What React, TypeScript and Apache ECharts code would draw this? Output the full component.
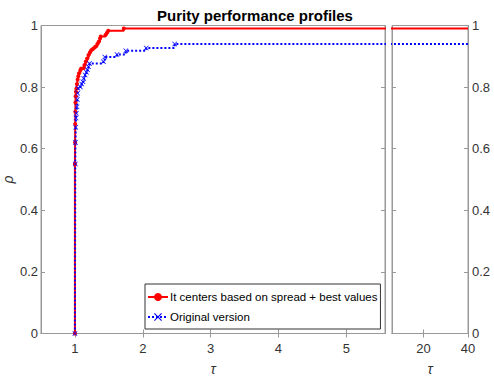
import React, { useEffect, useRef } from "react";
import * as echarts from "echarts";

const TITLE = "Purity performance profiles";
const SERIES_NAMES = ["It centers based on spread + best values", "Original version"];
const TAU_MAX = 40;

// (tau, rho) stair points
const redPoints: [number, number][] = [
  [1.0, 0.0], [1.0, 0.55], [1.002, 0.62], [1.004, 0.68], [1.006, 0.72], [1.008, 0.75],
  [1.01, 0.77], [1.015, 0.785], [1.02, 0.795], [1.03, 0.81], [1.04, 0.825], [1.05, 0.835],
  [1.06, 0.845], [1.08, 0.855], [1.09, 0.86], [1.13, 0.862], [1.14, 0.872], [1.16, 0.883],
  [1.18, 0.893], [1.2, 0.904], [1.22, 0.912], [1.24, 0.92], [1.27, 0.925], [1.3, 0.931],
  [1.33, 0.94], [1.35, 0.947], [1.37, 0.958], [1.38, 0.964], [1.45, 0.969], [1.47, 0.976],
  [1.49, 0.983], [1.72, 0.99], [TAU_MAX, 0.99],
];

const bluePoints: [number, number][] = [
  [1.0, 0.0], [1.005, 0.55], [1.008, 0.62], [1.012, 0.67], [1.016, 0.7], [1.02, 0.715],
  [1.03, 0.736], [1.035, 0.76], [1.04, 0.78], [1.045, 0.796], [1.08, 0.8], [1.1, 0.81],
  [1.117, 0.817], [1.13, 0.828], [1.15, 0.839], [1.17, 0.848], [1.185, 0.856], [1.2, 0.866],
  [1.215, 0.877], [1.42, 0.882], [1.44, 0.898], [1.62, 0.906], [1.75, 0.918], [2.05, 0.927],
  [2.47, 0.94], [TAU_MAX, 0.94],
];

const leftXTicks = [1, 2, 3, 4, 5];
const rightXTicks = [20, 40];

const X_CROSS = "path://M0,1L1,0L5,4L9,0L10,1L6,5L10,9L9,10L5,6L1,10L0,9L4,5Z";
const FONT = "'Liberation Sans', Arial, sans-serif";

export default function App() {
  const ref = useRef<HTMLDivElement>(null);
  useEffect(() => {
    if (!ref.current) return;
    const chart = echarts.init(ref.current, undefined, { renderer: "svg" });
    const axisLineStyle = { color: "#999", width: 1 };
    const labelStyle = { color: "#333", fontSize: 13, fontFamily: FONT };
    const tickInside = { show: true, inside: true, length: 4, lineStyle: { color: "#999" } };
    const baseX = (
      gi: number,
      min: number,
      max: number,
      interval: number,
      ticks: number[],
      top: boolean
    ) => ({
      type: "value" as const,
      gridIndex: gi,
      min,
      max,
      interval,
      position: top ? "top" : "bottom",
      axisLine: { show: true, lineStyle: axisLineStyle },
      axisTick: { ...tickInside, customValues: ticks },
      axisLabel: top ? { show: false } : { ...labelStyle, margin: 8, customValues: ticks },
      splitLine: { show: false },
      ...(top
        ? {}
        : {
            name: "τ",
            nameLocation: "middle" as const,
            nameGap: 28,
            nameTextStyle: { fontSize: 14, color: "#333", fontStyle: "italic", fontFamily: FONT },
          }),
    });
    const baseY = (gi: number, pos: "left" | "right", labels: boolean, named: boolean) => ({
      type: "value" as const,
      gridIndex: gi,
      min: 0,
      max: 1,
      interval: 0.2,
      position: pos,
      axisLine: { show: true, lineStyle: axisLineStyle },
      axisTick: tickInside,
      axisLabel: labels ? { ...labelStyle, margin: pos === "left" ? 3 : 4 } : { show: false },
      splitLine: { show: false },
      ...(named
        ? {
            name: "ρ",
            nameLocation: "middle" as const,
            nameGap: 26,
            nameMoveOverlap: false,
            nameRotate: 90,
            nameTextStyle: { fontSize: 14, color: "#333", fontStyle: "italic", fontFamily: FONT },
          }
        : {}),
    });
    const redStyle = {
      type: "line" as const,
      name: SERIES_NAMES[0],
      step: "end" as const,
      data: redPoints,
      lineStyle: { color: "#ff0000", width: 2 },
      itemStyle: { color: "#ff0000" },
      clip: true,
    };
    const blueStyle = {
      type: "line" as const,
      name: SERIES_NAMES[1],
      step: "end" as const,
      data: bluePoints,
      lineStyle: { color: "#0000ff", width: 2, type: "dotted" as const },
      itemStyle: { color: "#0000ff" },
      clip: true,
    };
    chart.setOption({
      animation: false,
      backgroundColor: "#fff",
      title: {
        text: TITLE,
        left: 250,
        textAlign: "center",
        top: 3,
        textStyle: { fontSize: 15, fontWeight: "bold", color: "#000", fontFamily: FONT },
      },
      grid: [
        {
          left: 41, top: 25.5, width: 344, height: 308,
          show: true, borderColor: "#999", borderWidth: 1,
          containLabel: false, outerBoundsMode: "none",
        },
        {
          left: 392, top: 25.5, width: 76, height: 308,
          show: true, borderColor: "#999", borderWidth: 1,
          containLabel: false, outerBoundsMode: "none",
        },
      ],
      xAxis: [
        baseX(0, 0.5, 5.57, 0.5, leftXTicks, false),
        baseX(0, 0.5, 5.57, 0.5, leftXTicks, true),
        baseX(1, 5.8, 40, 20, rightXTicks, false),
        baseX(1, 5.8, 40, 20, rightXTicks, true),
      ],
      yAxis: [
        baseY(0, "left", true, true),
        baseY(0, "right", false, false),
        baseY(1, "right", true, false),
        baseY(1, "left", false, false),
      ],
      legend: {
        data: SERIES_NAMES,
        orient: "vertical",
        left: 145,
        top: 284,
        itemWidth: 20,
        itemHeight: 10,
        itemGap: 8,
        padding: [7, 3, 6, 2],
        borderColor: "#333",
        borderWidth: 1,
        backgroundColor: "#fff",
        textStyle: { fontSize: 11.5, color: "#000", fontFamily: FONT, padding: [0, 0, 0, -3] },
      },
      series: [
        { ...redStyle, xAxisIndex: 0, yAxisIndex: 0, symbol: "circle", symbolSize: 4 },
        { ...blueStyle, xAxisIndex: 0, yAxisIndex: 0, symbol: X_CROSS, symbolSize: 5 },
        { ...redStyle, xAxisIndex: 2, yAxisIndex: 2, symbol: "none" },
        { ...blueStyle, xAxisIndex: 2, yAxisIndex: 2, symbol: "none" },
      ],
    });
    return () => chart.dispose();
  }, []);
  return (
    <div
      ref={ref}
      style={{ position: "absolute", left: 0, top: 0, width: 494, height: 381 }}
    />
  );
}
